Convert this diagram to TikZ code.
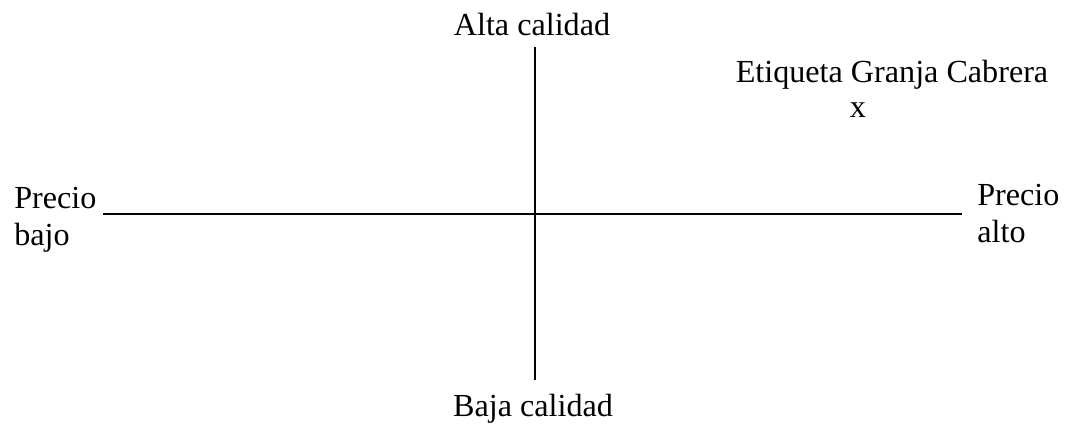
\documentclass[tikz,border=0pt]{standalone}
\usepackage{fontspec}
\setmainfont{Liberation Serif}
\begin{document}
\begin{tikzpicture}[x=0.02cm,y=-0.02cm,
  every node/.style={font=\fontsize{18.3}{21.5}\selectfont,inner sep=0pt},
  axis/.style={line width=0.7pt}]
  \useasboundingbox (0,0) rectangle (1066,425);
  % ejes
  \coordinate (izq) at (103,214);
  \coordinate (der) at (962,214);
  \coordinate (arr) at (535,47);
  \coordinate (aba) at (535,380);
  \draw[axis] (izq) -- (der);
  \draw[axis] (arr) -- (aba);
  % etiquetas de los ejes
  \node[anchor=base] (alta) at (532,36) {Alta calidad};
  \node[anchor=base] (baja) at (533,417) {Baja calidad};
  \node[anchor=base west,align=left] (pbajo) at (14,246) {Precio\\bajo};
  \node[anchor=base west,align=left] (palto) at (977,243) {Precio\\alto};
  % marca
  \node[anchor=base] (granja) at (892,83) {Etiqueta Granja Cabrera};
  \node[anchor=base] (marca) at (858,118) {x};
\end{tikzpicture}
\end{document}
